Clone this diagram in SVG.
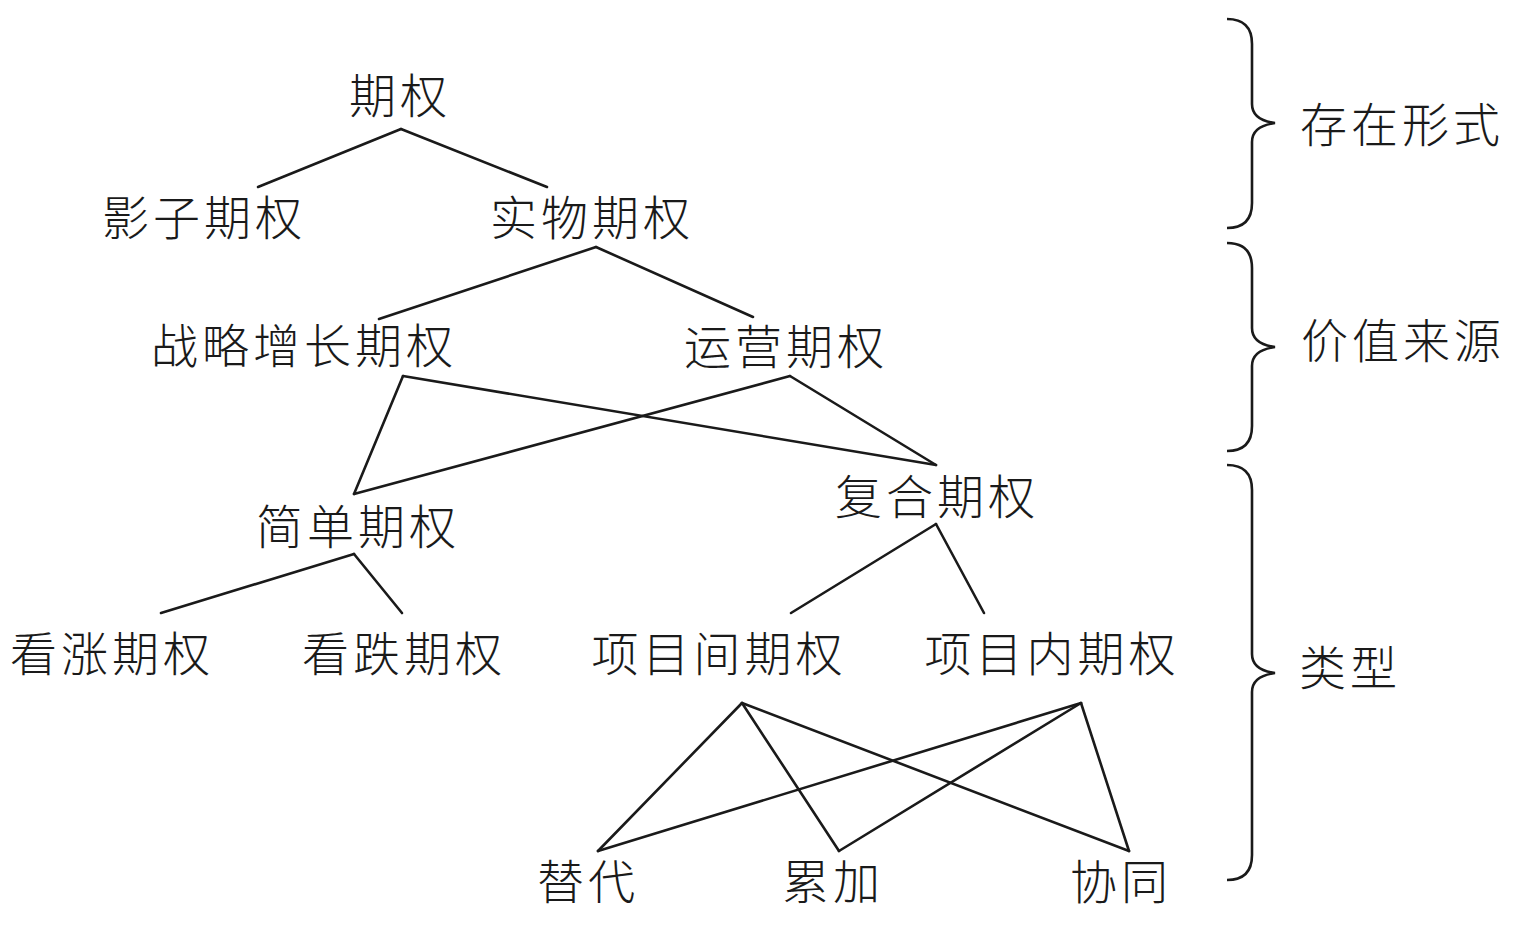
<svg xmlns="http://www.w3.org/2000/svg" width="1536" height="929" viewBox="0 0 1536 929">
<style>
.t{font-family:"Noto Sans CJK SC","Noto Sans CJK TC",sans-serif;font-size:47px;font-weight:300;fill:#1a1a1a;text-anchor:middle;letter-spacing:4px}
.c line{stroke:#1a1a1a;stroke-width:2.6;stroke-linecap:round}
.b{fill:none;stroke:#1a1a1a;stroke-width:2.6}
</style>
<rect width="1536" height="929" fill="#ffffff"/>
<g id="connectors" class="c">
<line x1="401" y1="129" x2="258" y2="187"/>
<line x1="401" y1="129" x2="547" y2="187"/>
<line x1="596" y1="247" x2="379" y2="319"/>
<line x1="596" y1="247" x2="753" y2="317"/>
<line x1="403" y1="376" x2="354" y2="494"/>
<line x1="403" y1="376" x2="936" y2="465"/>
<line x1="790" y1="376" x2="354" y2="494"/>
<line x1="790" y1="376" x2="936" y2="465"/>
<line x1="354" y1="554" x2="161" y2="613"/>
<line x1="354" y1="554" x2="402" y2="613"/>
<line x1="936" y1="524" x2="791" y2="613"/>
<line x1="936" y1="524" x2="984" y2="613"/>
<line x1="742" y1="703" x2="598" y2="851"/>
<line x1="742" y1="703" x2="839" y2="851"/>
<line x1="742" y1="703" x2="1129" y2="851"/>
<line x1="1081" y1="703" x2="598" y2="851"/>
<line x1="1081" y1="703" x2="839" y2="851"/>
<line x1="1081" y1="703" x2="1129" y2="851"/>
</g>
<g id="braces">
<path class="b" d="M1227,19 Q1252,19 1252,44 L1252,104 Q1252,120 1275,123 Q1252,126 1252,142 L1252,203 Q1252,228 1227,228"/>
<path class="b" d="M1227,243 Q1252,243 1252,268 L1252,328 Q1252,344 1275,347 Q1252,350 1252,366 L1252,426 Q1252,451 1227,451"/>
<path class="b" d="M1227,465 Q1252,465 1252,490 L1252,654 Q1252,670 1275,673 Q1252,676 1252,692 L1252,855 Q1252,880 1227,880"/>
</g>
<g id="n-qiquan"><text class="t" x="400" y="113">期权</text></g>
<g id="n-yingzi"><text class="t" x="204" y="235">影子期权</text></g>
<g id="n-shiwu"><text class="t" x="592" y="235">实物期权</text></g>
<g id="n-zhanlue"><text class="t" x="304" y="363">战略增长期权</text></g>
<g id="n-yunying"><text class="t" x="786" y="364">运营期权</text></g>
<g id="n-jiandan"><text class="t" x="358" y="544">简单期权</text></g>
<g id="n-fuhe"><text class="t" x="937" y="514">复合期权</text></g>
<g id="n-kanzhang"><text class="t" x="112" y="671">看涨期权</text></g>
<g id="n-kandie"><text class="t" x="404" y="671">看跌期权</text></g>
<g id="n-xiangmujian"><text class="t" x="719" y="671">项目间期权</text></g>
<g id="n-xiangmunei"><text class="t" x="1052" y="671">项目内期权</text></g>
<g id="n-tidai"><text class="t" x="588" y="899">替代</text></g>
<g id="n-leijia"><text class="t" x="833" y="899">累加</text></g>
<g id="n-xietong"><text class="t" x="1121" y="899">协同</text></g>
<g id="l-cunzai"><text class="t" x="1402" y="142">存在形式</text></g>
<g id="l-jiazhi"><text class="t" x="1403" y="358">价值来源</text></g>
<g id="l-leixing"><text class="t" x="1350" y="685">类型</text></g>
</svg>
